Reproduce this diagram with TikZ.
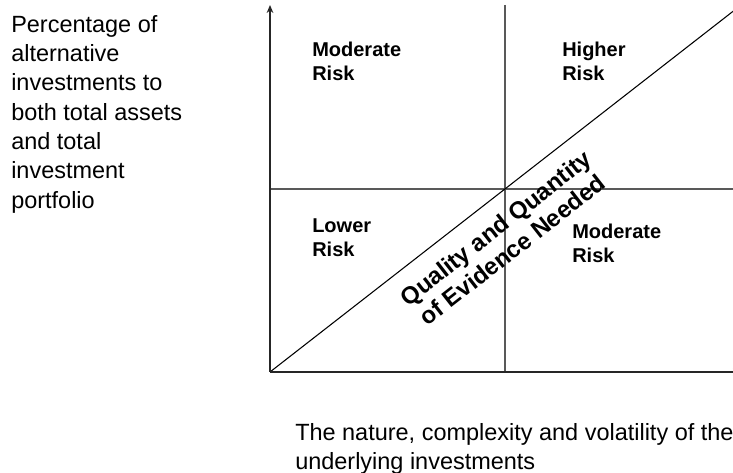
\documentclass[tikz,border=0pt]{standalone}
\usepackage{fontspec}
\setmainfont{Liberation Sans}
\usetikzlibrary{arrows.meta}
\begin{document}
\begin{tikzpicture}[x=0.75pt,y=-0.75pt,
  axis/.style={line width=1.3pt,black!85,-{Stealth[length=6pt,width=5pt]}},
  divider/.style={line width=0.8pt,black!65},
  diag/.style={line width=0.8pt,black},
  quad/.style={anchor=north west,inner sep=0pt,align=left,font={\fontsize{15}{18}\selectfont\bfseries}},
  plain/.style={anchor=north west,inner sep=0pt,align=left,font={\fontsize{17.6}{22}\selectfont}}]
\useasboundingbox (0,0) rectangle (733,473);
\clip (0,0) rectangle (733,473);
\coordinate (O) at (270,372);
\coordinate (Ytop) at (270,5);
\coordinate (Xend) at (741,372);
\coordinate (Vtop) at (505,5);
\coordinate (Vbot) at (505,372);
\coordinate (Hl) at (270,189);
\coordinate (Hr) at (740,189);
\coordinate (Dend) at (745,2);
% dividers
\draw[divider] (Vtop) -- (Vbot);
\draw[divider] (Hl) -- (Hr);
% diagonal
\draw[diag] (O) -- (Dend);
% axes
\draw[axis] (O) -- (Ytop);
\draw[axis] (O) -- (Xend);
% quadrant labels
\node[quad] (ml) at (312,42) {Moderate\\Risk};
\node[quad] (hr) at (562,42) {Higher\\Risk};
\node[quad] (lr) at (312,218) {Lower\\Risk};
\node[quad] (mr) at (572,224) {Moderate\\Risk};
% diagonal label
\node[inner sep=0pt,align=center,rotate=38,font={\fontsize{18}{20.5}\selectfont\bfseries}] (qq) at (504,239) {Quality and Quantity\\of Evidence Needed};
% axis titles
\node[plain] (ytitle) at (11,15) {Percentage of\\alternative\\investments to\\both total assets\\and total\\investment\\portfolio};
\node[plain] (xtitle) at (295,423) {The nature, complexity and volatility of the\\underlying investments};
\end{tikzpicture}
\end{document}
